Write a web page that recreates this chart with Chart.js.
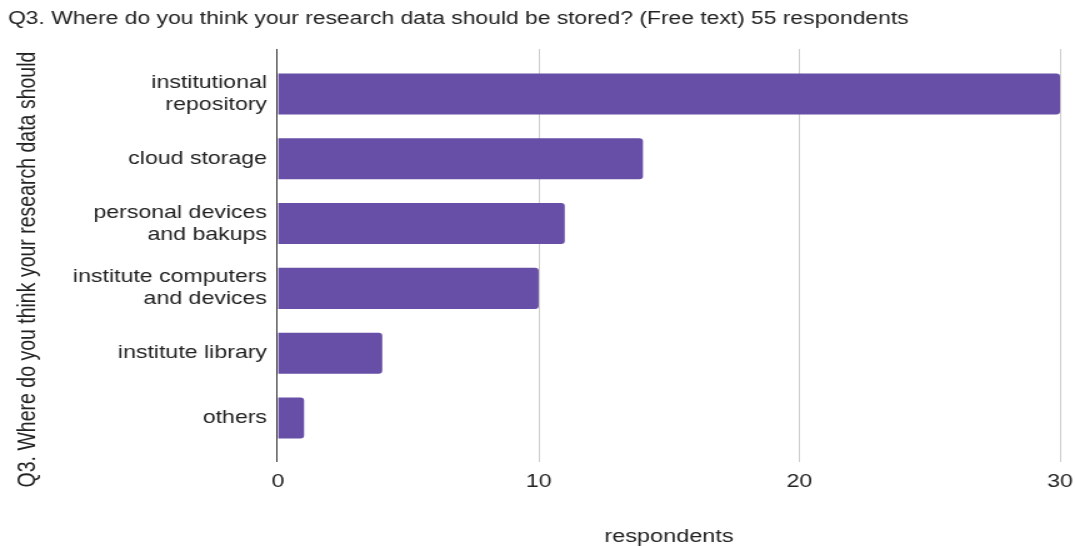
<!DOCTYPE html>
<html>
<head>
<meta charset="utf-8">
<script src="https://cdn.jsdelivr.net/npm/chart.js@4/dist/chart.umd.min.js"></script>
<style>
  html, body { margin: 0; padding: 0; background: #fff; overflow: hidden; }
  /* the reference text is drawn slightly wide, so the chart is stretched horizontally */
  #wrap { width: 860px; height: 546px; transform: scaleX(1.25); transform-origin: 0 0; }
</style>
</head>
<body>
<div id="wrap"><canvas id="chart" width="860" height="546"></canvas></div>
<script>
// üìä Data
const categories = [
  ['institutional', 'repository'],
  'cloud storage',
  ['personal devices', 'and bakups'],
  ['institute computers', 'and devices'],
  'institute library',
  'others'
];
const respondents = [30, 14, 11, 10, 4, 1];
const xTicks = [0, 10, 20, 30];

const chartTitle = 'Q3. Where do you think your research data should be stored? (Free text) 55 respondents';
const yTitle = 'Q3. Where do you think your research data should';
const xTitle = 'respondents';

const FONT = "'Liberation Sans', Arial, sans-serif";
const TEXT = '#222';

// üìè Gridlines reach a bit past the category band, like the original
const gridPlugin = {
  id: 'extendedGrid',
  beforeDatasetsDraw(chart) {
    const { ctx, chartArea, scales } = chart;
    ctx.save();
    ctx.lineWidth = 1;
    ctx.strokeStyle = '#cccccc';
    xTicks.forEach(v => {
      if (v === 0) return;
      const x = Math.round(scales.x.getPixelForValue(v)) + 0.5;
      ctx.beginPath();
      ctx.moveTo(x, chartArea.top - 12.6);
      ctx.lineTo(x, chartArea.bottom + 11.6);
      ctx.stroke();
    });
    ctx.restore();
  },
  afterDatasetsDraw(chart) {
    const { ctx, chartArea, scales } = chart;
    const x = Math.round(scales.x.getPixelForValue(0)) - 0.5;
    ctx.save();
    ctx.lineWidth = 1;
    ctx.strokeStyle = '#333333';
    ctx.beginPath();
    ctx.moveTo(x, chartArea.top - 12.6);
    ctx.lineTo(x, chartArea.bottom + 11.6);
    ctx.stroke();
    ctx.restore();
  }
};

const ctx = document.getElementById('chart').getContext('2d');
new Chart(ctx, {
  type: 'bar',
  data: {
    labels: categories,
    datasets: [{
      label: xTitle,
      data: respondents,
      backgroundColor: '#674ea7',
      borderRadius: 3,
      borderSkipped: 'start',
      barPercentage: 0.633,
      categoryPercentage: 1
    }]
  },
  options: {
    indexAxis: 'y',
    responsive: false,
    animation: false,
    devicePixelRatio: 1,
    layout: { padding: { left: 6.4, right: 12, top: 0, bottom: 0 } },
    plugins: {
      legend: { display: false },
      tooltip: { enabled: false },
      title: {
        display: true,
        text: chartTitle,
        align: 'start',
        color: TEXT,
        font: { family: FONT, size: 18.3, weight: 'normal', lineHeight: 1.2 },
        padding: { top: 8, bottom: 31.6 }
      }
    },
    scales: {
      x: {
        type: 'linear',
        min: 0,
        max: 30,
        afterBuildTicks: scale => { scale.ticks = xTicks.map(v => ({ value: v })); },
        afterFit: scale => {
          scale.height = 95.6;
          scale.paddingLeft = 0;
          scale.paddingRight = 0;
        },
        grid: { display: false, drawTicks: false, tickLength: 0 },
        border: { display: false },
        ticks: {
          color: TEXT,
          padding: 20,
          font: { family: FONT, size: 18.5 }
        },
        title: {
          display: true,
          text: xTitle,
          color: TEXT,
          font: { family: FONT, size: 18.8, lineHeight: 1 },
          padding: { top: 0, bottom: 0 }
        }
      },
      y: {
        afterFit: scale => {
          scale.width = 222.4 - 6.4;
          scale.paddingTop = 0;
          scale.paddingBottom = 0;
        },
        grid: { display: false, drawTicks: false, tickLength: 0 },
        border: { display: false },
        ticks: {
          color: TEXT,
          padding: 8.8,
          font: { family: FONT, size: 18.5, lineHeight: 1.19 }
        },
        title: {
          display: true,
          text: yTitle + '     ',
          color: TEXT,
          font: { family: FONT, size: 19.5, lineHeight: 1.2 },
          padding: { top: 4.3, bottom: 0 }
        }
      }
    }
  },
  plugins: [gridPlugin]
});
</script>
</body>
</html>
